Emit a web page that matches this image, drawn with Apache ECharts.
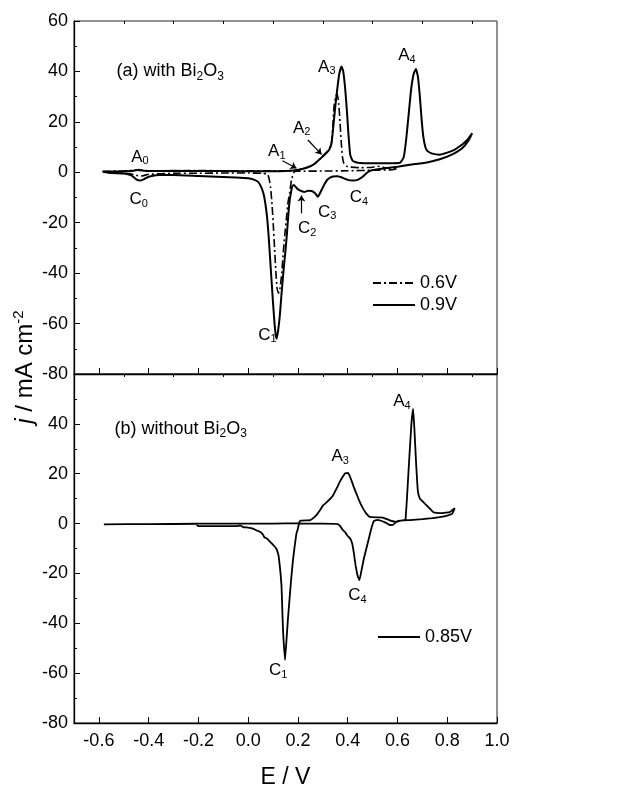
<!DOCTYPE html>
<html><head><meta charset="utf-8">
<script src="https://cdn.jsdelivr.net/npm/echarts@6/dist/echarts.min.js"></script>
<style>html,body{margin:0;padding:0;background:#fff}#c{width:635px;height:790px}</style>
</head><body><div id="c"></div>
<script>
// ---- axis ticks ----
const xMajorTicks = [-0.6, -0.4, -0.2, 0.0, 0.2, 0.4, 0.6, 0.8, 1.0];
const xMinorTicks = [-0.5, -0.3, -0.1, 0.1, 0.3, 0.5, 0.7, 0.9];

// ---- (a) with Bi2O3, 0.9 V (solid) : E / V and j / mA cm-2 in scan order ----
const aSolidE = [-0.585,-0.55,-0.5,-0.46,-0.44,-0.42,-0.38,-0.3,-0.2,-0.1,0.0,0.1,0.15,0.19,0.22,0.25,0.27,0.29,0.31,0.325,0.335,0.342,0.35,0.358,0.366,0.375,0.382,0.39,0.397,0.403,0.41,0.42,0.44,0.5,0.56,0.61,0.625,0.635,0.645,0.655,0.665,0.674,0.682,0.69,0.697,0.704,0.712,0.72,0.74,0.77,0.8,0.83,0.86,0.88,0.9,
  0.885,0.86,0.83,0.8,0.77,0.74,0.7,0.65,0.6,0.55,0.5,0.48,0.46,0.44,0.42,0.4,0.38,0.36,0.34,0.32,0.305,0.29,0.28,0.27,0.255,0.24,0.225,0.21,0.195,0.183,0.177,0.172,0.167,0.162,0.156,0.15,0.143,0.135,0.127,0.12,0.114,0.11,0.106,0.1,0.094,0.088,0.082,0.075,0.065,0.055,0.04,0.02,0.0,-0.05,-0.1,-0.2,-0.3,-0.36,-0.4,-0.42,-0.435,-0.45,-0.47,-0.5,-0.55,-0.585];
const aSolidJ = [0.2,0.3,0.4,0.6,1.0,0.6,0.5,0.6,0.5,0.5,0.4,0.4,0.5,0.8,1.4,2.4,3.6,5.4,7.2,8.8,11.5,18,26,33,39,42,40,33,24,15,7,4.5,3.8,3.6,3.6,3.8,6,13,23,33,39,41,38,30,21,14,10,8.5,7.4,7,7.8,9,11,12.8,15.5,
  12.5,9.5,7.6,6.2,5.2,4.4,3.6,3.0,2.2,1.6,0.9,0,-1.8,-3.0,-3.3,-3.0,-2.2,-1.6,-1.7,-2.8,-5,-8,-9.7,-8.4,-7.4,-7.3,-7.8,-7.3,-6.3,-5,-5.5,-8,-11,-16,-24,-31,-38,-47,-57,-63,-66,-64,-60,-52,-43,-34,-25,-17,-10,-6.5,-3.8,-2.8,-2.4,-2.1,-1.9,-1.5,-1.1,-1.1,-1.8,-2.8,-3.3,-2.8,-1.2,-0.5,-0.3,0.2];

// ---- (a) with Bi2O3, 0.6 V (dash-dot) ----
const aDashE = [-0.585,-0.5,-0.45,-0.4,-0.3,-0.2,-0.1,0.0,0.1,0.15,0.19,0.22,0.25,0.27,0.29,0.31,0.325,0.335,0.34,0.345,0.352,0.358,0.364,0.369,0.374,0.379,0.385,0.4,0.45,0.5,0.52,0.55,0.6,
  0.58,0.5,0.4,0.3,0.2,0.185,0.174,0.167,0.16,0.153,0.147,0.14,0.135,0.128,0.122,0.116,0.111,0.106,0.101,0.096,0.09,0.084,0.078,0.06,0.0,-0.1,-0.2,-0.3,-0.4,-0.43,-0.45,-0.48,-0.585];
const aDashJ = [0.4,0.5,0.8,0.6,0.6,0.7,0.6,0.6,0.6,0.6,0.8,1.4,2.4,3.6,5.5,7.5,9,12,18,26,30,31,27,20,12,6,3.4,2.2,1.8,2.0,2.4,1.8,1.5,
  1.0,0.8,0.6,0.5,0.4,0.2,-3,-8,-12,-19,-25,-33,-40,-46,-48,-46,-39,-30,-21,-13,-6,-2.5,-0.8,-0.4,-0.3,-0.3,-0.4,-0.4,-0.8,-1.5,-1.2,-0.5,0.4];

// ---- (b) without Bi2O3, 0.85 V (solid) ----
const bSolidE = [-0.58,-0.4,-0.2,-0.1,0.0,0.1,0.2,0.203,0.21,0.25,0.265,0.275,0.29,0.3,0.315,0.33,0.341,0.355,0.368,0.38,0.39,0.402,0.415,0.425,0.435,0.445,0.455,0.465,0.475,0.488,0.52,0.542,0.569,0.596,0.615,0.632,0.645,0.656,0.663,0.668,0.675,0.682,0.69,0.7,0.71,0.72,0.73,0.745,0.78,0.81,0.83,
  0.82,0.8,0.77,0.74,0.7,0.65,0.6,0.58,0.565,0.55,0.52,0.505,0.495,0.485,0.475,0.465,0.455,0.447,0.44,0.432,0.425,0.418,0.41,0.4,0.39,0.38,0.37,0.36,0.3,0.25,0.21,0.203,0.2,0.194,0.187,0.18,0.173,0.167,0.16,0.154,0.148,0.143,0.14,0.137,0.134,0.13,0.127,0.123,0.12,0.113,0.107,0.1,0.09,0.085,0.075,0.065,0.06,0.05,0.04,0.03,0.019,0.0,-0.02,-0.03,-0.05,-0.1,-0.15,-0.2,-0.21,-0.4,-0.58];
const bSolidJ = [-0.3,-0.2,0,0,0,0,0.1,0,1.2,1.4,2.5,3.5,5.5,7.2,8.5,10,11.3,14,16.7,18.8,20.2,20.3,17.3,14.5,12,9.5,7.3,5.5,4,2.7,2.5,2.4,1.3,0.7,1.2,1.5,22,40,46,38,24,13,10,9,8,7,6,4.5,4.2,4.6,6.2,
  4.0,3.2,2.6,2.2,1.8,1.4,1.0,-0.6,-0.4,0.5,1.5,1.0,-2,-6,-10,-14,-19,-22.7,-21,-17,-12,-8,-6,-5,-3.5,-2.5,-1,-0.2,0,0,0,-0.5,-2,-4,-9,-14.7,-22,-29.3,-38,-46.7,-54.7,-48,-42.7,-34,-25,-20,-17,-13.5,-12,-10,-9.3,-8.5,-7.5,-7,-6,-5.5,-4.5,-3.5,-3,-2.6,-2,-1.6,-1.4,-0.8,-1.0,-1.0,-1.0,-1.0,-0.2,-0.2,-0.3];

// ---- annotation texts ----
const peakLabelsA = [['A','0',-0.47,6.1],['C','0',-0.477,-10.6],['A','1',0.08,8.4],['A','2',0.18,17.6],['A','3',0.281,41.8],['A','4',0.603,46.2],['C','1',0.04,-64.5],['C','2',0.2,-22.1],['C','3',0.281,-15.7],['C','4',0.408,-9.8]];
const peakLabelsB = [['A','3',0.335,26.9],['A','4',0.583,48.9],['C','1',0.084,-59],['C','4',0.402,-28.7]];
const arrowsA = [[[0.138,4.6],[0.194,1.6]],[[0.24,12.8],[0.295,7.1]],[[0.214,-16.3],[0.214,-9.2]]];

const FONT = '"Liberation Sans", Arial, Helvetica, sans-serif';
const K = '#000';
const pairs = (E, J) => E.map((e, i) => [e, J[i]]);

function xAxesFor(grid, withLabels) {
  return [{
    type: 'value', gridIndex: grid, min: -0.7, max: 1.0, interval: 0.1,
    axisLine: {show: true, onZero: false, lineStyle: {color: K, width: 1.3}},
    axisTick: {show: true, inside: true, length: 6, customValues: xMajorTicks, lineStyle: {color: K, width: 1}},
    axisLabel: {show: withLabels, customValues: xMajorTicks, formatter: v => Number(v).toFixed(1),
      fontSize: 18, color: K, fontFamily: FONT, margin: 9},
    splitLine: {show: false},
    name: withLabels ? 'E / V' : '', nameLocation: 'middle', nameGap: 43,
    nameTextStyle: {fontSize: 23, color: K, fontFamily: FONT}
  }, {
    type: 'value', gridIndex: grid, min: -0.7, max: 1.0, interval: 0.1,
    axisLine: {show: false, onZero: false},
    axisTick: {show: true, inside: true, length: 3, customValues: xMinorTicks, lineStyle: {color: K, width: 1}},
    axisLabel: {show: false}, splitLine: {show: false}
  }];
}
function yAxisFor(grid, hideTop) {
  return {
    type: 'value', gridIndex: grid, min: -80, max: 60, interval: 20,
    axisLine: {show: true, onZero: false, lineStyle: {color: K, width: 1.3}},
    axisTick: {show: true, inside: true, length: 6, lineStyle: {color: K, width: 1}},
    minorTick: {show: true, splitNumber: 2, length: 3, lineStyle: {color: K, width: 1}},
    axisLabel: {fontSize: 18, color: K, fontFamily: FONT, margin: 6,
      formatter: v => (hideTop && v === 60) ? '' : String(v)},
    splitLine: {show: false}
  };
}
const legendCommon = {orient: 'vertical', padding: 0, itemWidth: 42, itemHeight: 18, itemGap: 4,
  selectedMode: false, itemStyle: {opacity: 0}, textStyle: {fontSize: 18, color: K, fontFamily: FONT}};

const chart = echarts.init(document.getElementById('c'), null, {renderer: 'canvas'});
chart.setOption({
  animation: false,
  backgroundColor: '#fff',
  grid: [
    {left: 74, top: 21, width: 423, height: 353, show: true, borderColor: '#222', borderWidth: 1, backgroundColor: 'transparent'},
    {left: 74, top: 374, width: 423, height: 349, show: true, borderColor: '#222', borderWidth: 1, backgroundColor: 'transparent'}
  ],
  xAxis: [...xAxesFor(0, false), ...xAxesFor(1, true)],
  yAxis: [yAxisFor(0, false), yAxisFor(1, true)],
  legend: [
    Object.assign({data: ['0.6V', '0.9V'], left: 372, top: 274}, legendCommon),
    Object.assign({data: ['0.85V'], left: 377, top: 628}, legendCommon)
  ],
  series: [
    {type: 'line', name: '0.6V', xAxisIndex: 0, yAxisIndex: 0, data: pairs(aDashE, aDashJ), symbol: 'none',
      smooth: 0.15, lineStyle: {color: K, width: 1.6, type: [8, 3, 2, 3]}, itemStyle: {color: K}},
    {type: 'line', name: '0.9V', xAxisIndex: 0, yAxisIndex: 0, data: pairs(aSolidE, aSolidJ), symbol: 'none',
      smooth: 0.15, lineStyle: {color: K, width: 2}, itemStyle: {color: K},
      markLine: {silent: true, symbol: ['none', 'arrow'], symbolSize: 6, label: {show: false},
        lineStyle: {color: K, width: 1.2, type: 'solid'},
        data: arrowsA.map(a => [{coord: a[0]}, {coord: a[1]}])}},
    {type: 'line', name: '0.85V', xAxisIndex: 2, yAxisIndex: 1, data: pairs(bSolidE, bSolidJ), symbol: 'none',
      smooth: 0.1, lineStyle: {color: K, width: 1.8}, itemStyle: {color: K}}
  ]
});

// ---- text annotations positioned through the chart's own scales ----
const subRich = {
  m: {fontSize: 17, fontFamily: FONT, lineHeight: 20, fill: K, color: K},
  s: {fontSize: 11, fontFamily: FONT, lineHeight: 8, verticalAlign: 'bottom', fill: K, color: K}
};
function textEl(p, text, rich, align) {
  return {type: 'text', x: p[0], y: p[1], silent: true,
    style: {text: text, rich: rich, fill: K, align: align || 'left', verticalAlign: 'middle',
      textAlign: align || 'left', textVerticalAlign: 'middle'}};
}
const els = [];
peakLabelsA.forEach(l => {
  const p = chart.convertToPixel({xAxisIndex: 0, yAxisIndex: 0}, [l[2], l[3]]);
  els.push(textEl(p, '{m|' + l[0] + '}{s|' + l[1] + '}', subRich));
});
peakLabelsB.forEach(l => {
  const p = chart.convertToPixel({xAxisIndex: 2, yAxisIndex: 1}, [l[2], l[3]]);
  els.push(textEl(p, '{m|' + l[0] + '}{s|' + l[1] + '}', subRich));
});
const titleRich = {
  m: {fontSize: 18, fontFamily: FONT, lineHeight: 22, fill: K, color: K},
  s: {fontSize: 12, fontFamily: FONT, lineHeight: 2, verticalAlign: 'bottom', fill: K, color: K}
};
els.push(textEl(chart.convertToPixel({xAxisIndex: 0, yAxisIndex: 0}, [-0.529, 40]),
  '{m|(a) with Bi}{s|2}{m|O}{s|3}', titleRich));
els.push(textEl(chart.convertToPixel({xAxisIndex: 2, yAxisIndex: 1}, [-0.537, 38]),
  '{m|(b) without Bi}{s|2}{m|O}{s|3}', titleRich));
// y-axis title (shared by both panels)
els.push({type: 'text', x: 25, y: 367, rotation: Math.PI / 2, silent: true,
  style: {text: '{i|j}{m| / mA cm}{p|-2}', fill: K, align: 'center', verticalAlign: 'middle',
    textAlign: 'center', textVerticalAlign: 'middle',
    rich: {
      i: {fontSize: 24, fontFamily: FONT, fontStyle: 'italic', lineHeight: 28, fill: K, color: K},
      m: {fontSize: 24, fontFamily: FONT, lineHeight: 28, fill: K, color: K},
      p: {fontSize: 15, fontFamily: FONT, lineHeight: 4, verticalAlign: 'top', fill: K, color: K}
    }}});
chart.setOption({graphic: {elements: els}});
</script>
</body></html>
